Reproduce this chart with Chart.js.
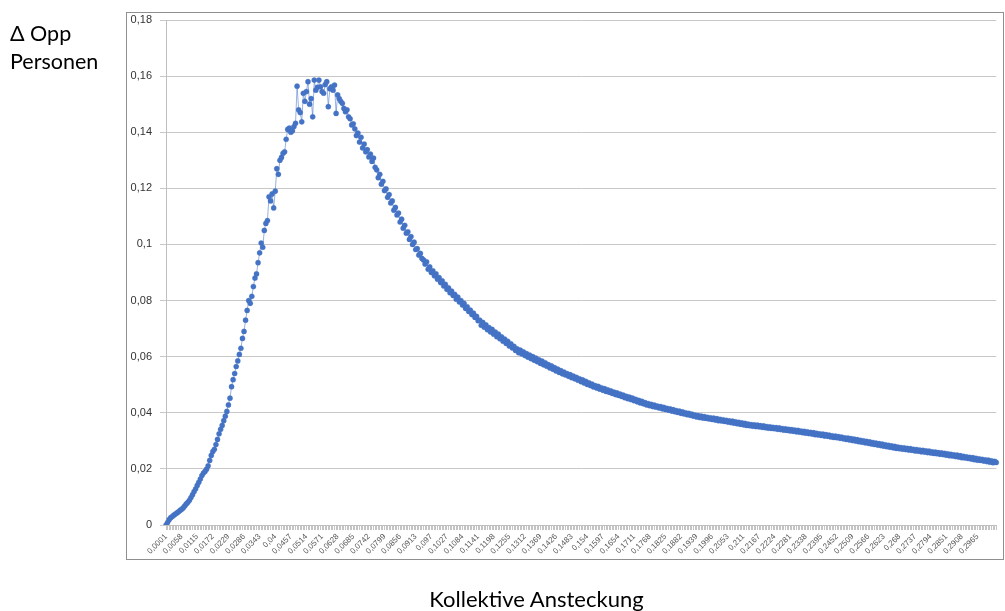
<!DOCTYPE html>
<html>
<head>
<meta charset="utf-8">
<script src="https://cdn.jsdelivr.net/npm/chart.js@4.4.1/dist/chart.umd.min.js"></script>
<style>
  html, body { margin: 0; padding: 0; background: #fff; }
  #wrap { position: relative; width: 1005px; height: 611px; overflow: hidden; }
  #frame { position: absolute; left: 126px; top: 12px; width: 878px; height: 548px; border: 1px solid #8f8f8f; box-sizing: border-box; }
  #c { position: absolute; left: 0; top: 0; }
  .ttl { position: absolute; font-family: Lato, "Liberation Sans", sans-serif; color: #000; white-space: nowrap; }
  #ytitle { left: 10px; top: 19px; line-height: 28px; font-size: 21.5px; }
  #xtitle { left: 0; width: 1005px; top: 585px; text-align: center; padding-left: 68px; box-sizing: border-box; font-size: 22px; }
</style>
</head>
<body>
<div id="wrap">
  <div id="frame"></div>
  <canvas id="c" width="1005" height="611"></canvas>
  <div class="ttl" id="ytitle">Δ Opp<br>Personen</div>
  <div class="ttl" id="xtitle">Kollektive Ansteckung</div>
</div>
<script>
// Tick labels shown on the category axis (every 10th category)
const tickLabels = ['0,0001','0,0058','0,0115','0,0172','0,0229','0,0286','0,0343','0,04','0,0457','0,0514',
  '0,0571','0,0628','0,0685','0,0742','0,0799','0,0856','0,0913','0,097','0,1027','0,1084',
  '0,1141','0,1198','0,1255','0,1312','0,1369','0,1426','0,1483','0,154','0,1597','0,1654',
  '0,1711','0,1768','0,1825','0,1882','0,1939','0,1996','0,2053','0,211','0,2167','0,2224',
  '0,2281','0,2338','0,2395','0,2452','0,2509','0,2566','0,2623','0,268','0,2737','0,2794',
  '0,2851','0,2908','0,2965'];

// Δ Opp Personen values
const deltaOpp = [
0,0.0009,0.0019,0.0026,0.0030,0.0035,0.0039,0.0043,0.0047,0.0052,
0.0056,0.0061,0.0068,0.0075,0.0081,0.0088,0.0098,0.0108,0.0119,0.0129,
0.0141,0.0152,0.0164,0.0176,0.0185,0.0191,0.0199,0.0211,0.0230,0.0248,
0.0262,0.0270,0.0287,0.0305,0.0325,0.0341,0.0355,0.0372,0.0388,0.0405,
0.0428,0.0452,0.0493,0.0518,0.0540,0.0565,0.0585,0.0608,0.0630,0.0665,
0.0690,0.0730,0.0765,0.0800,0.0790,0.0815,0.0850,0.0880,0.0895,0.0935,
0.0970,0.1005,0.0990,0.1050,0.1075,0.1085,0.1170,0.1155,0.1180,0.1130,
0.1190,0.1270,0.1250,0.1300,0.1310,0.1325,0.1330,0.1375,0.1410,0.1415,
0.1400,0.1405,0.1420,0.1432,0.1564,0.1480,0.1470,0.1437,0.1539,0.1510,
0.1545,0.1580,0.1500,0.1520,0.1455,0.1586,0.1550,0.1560,0.1586,0.1562,
0.1545,0.1539,0.1570,0.1580,0.1491,0.1555,0.1562,0.1550,0.1568,0.1467,
0.1533,0.1520,0.1510,0.1503,0.1485,0.1473,0.1480,0.1455,0.1448,0.1426,
0.1430,0.1412,0.1388,0.1397,0.1365,0.1382,0.1344,0.1358,0.1330,0.1338,
0.1312,0.1322,0.1296,0.1308,0.1275,0.1266,0.1238,0.1250,0.1215,0.1225,
0.1192,0.1198,0.1168,0.1178,0.1148,0.1155,0.1122,0.1132,0.1105,0.1112,
0.1080,0.1090,0.1058,0.1068,0.1040,0.1045,0.1018,0.1028,0.1000,0.1008,
0.0982,0.0985,0.0962,0.0968,0.0950,0.0945,0.0930,0.0938,0.0912,0.0920,
0.0900,0.0906,0.0888,0.0895,0.0876,0.0882,0.0864,0.0870,0.0852,0.0858,
0.0840,0.0845,0.0828,0.0834,0.0818,0.0822,0.0805,0.0812,0.0795,0.0800,
0.0784,0.0790,0.0772,0.0778,0.0761,0.0766,0.0750,0.0755,0.0740,0.0744,
0.0728,0.0730,0.0712,0.0722,0.0705,0.0713,0.0696,0.0704,0.0688,0.0697,
0.0680,0.0688,0.0671,0.0680,0.0664,0.0671,0.0655,0.0663,0.0647,0.0655,
0.0638,0.0646,0.0631,0.0637,0.0622,0.0628,0.0614,0.0623,0.0610,0.0617,
0.0604,0.0611,0.0598,0.0606,0.0593,0.0600,0.0587,0.0595,0.0582,0.0589,
0.0576,0.0584,0.0571,0.0578,0.0566,0.0572,0.0560,0.0567,0.0555,0.0561,
0.0549,0.0556,0.0544,0.0550,0.0539,0.0545,0.0535,0.0540,0.0530,0.0536,
0.0525,0.0531,0.0521,0.0526,0.0516,0.0521,0.0511,0.0517,0.0506,0.0512,
0.0501,0.0507,0.0497,0.0502,0.0492,0.0497,0.0488,0.0494,0.0484,0.0489,
0.0480,0.0486,0.0476,0.0482,0.0473,0.0478,0.0469,0.0474,0.0465,0.0471,
0.0462,0.0467,0.0458,0.0463,0.0454,0.0459,0.0450,0.0456,0.0447,0.0452,
0.0443,0.0448,0.0439,0.0444,0.0435,0.0441,0.0432,0.0436,0.0428,0.0433,
0.0425,0.0430,0.0422,0.0427,0.0420,0.0424,0.0417,0.0422,0.0414,0.0419,
0.0412,0.0416,0.0409,0.0414,0.0406,0.0411,0.0404,0.0408,0.0401,0.0406,
0.0398,0.0403,0.0396,0.0400,0.0393,0.0398,0.0391,0.0395,0.0388,0.0392,
0.0385,0.0390,0.0383,0.0388,0.0381,0.0386,0.0380,0.0384,0.0378,0.0382,
0.0376,0.0381,0.0374,0.0379,0.0372,0.0377,0.0371,0.0375,0.0369,0.0373,
0.0367,0.0371,0.0365,0.0370,0.0363,0.0368,0.0361,0.0366,0.0359,0.0364,
0.0357,0.0362,0.0355,0.0360,0.0354,0.0358,0.0352,0.0357,0.0351,0.0356,
0.0350,0.0354,0.0348,0.0353,0.0347,0.0351,0.0345,0.0350,0.0344,0.0348,
0.0343,0.0347,0.0341,0.0346,0.0340,0.0344,0.0338,0.0343,0.0337,0.0341,
0.0335,0.0340,0.0334,0.0338,0.0332,0.0337,0.0331,0.0335,0.0329,0.0334,
0.0327,0.0332,0.0326,0.0330,0.0324,0.0329,0.0322,0.0327,0.0321,0.0325,
0.0319,0.0324,0.0317,0.0322,0.0316,0.0320,0.0314,0.0318,0.0312,0.0317,
0.0311,0.0315,0.0309,0.0313,0.0307,0.0311,0.0305,0.0310,0.0303,0.0308,
0.0301,0.0306,0.0299,0.0304,0.0297,0.0302,0.0295,0.0300,0.0293,0.0298,
0.0291,0.0296,0.0289,0.0294,0.0287,0.0292,0.0285,0.0290,0.0283,0.0288,
0.0281,0.0286,0.0279,0.0284,0.0277,0.0282,0.0275,0.0280,0.0273,0.0278,
0.0272,0.0276,0.0270,0.0275,0.0269,0.0273,0.0267,0.0272,0.0266,0.0270,
0.0264,0.0269,0.0263,0.0267,0.0261,0.0266,0.0260,0.0264,0.0258,0.0263,
0.0257,0.0261,0.0255,0.0260,0.0254,0.0258,0.0252,0.0257,0.0251,0.0255,
0.0249,0.0254,0.0247,0.0252,0.0246,0.0250,0.0244,0.0249,0.0242,0.0247,
0.0240,0.0245,0.0239,0.0243,0.0237,0.0241,0.0235,0.0240,0.0233,0.0238,
0.0231,0.0236,0.0230,0.0234,0.0228,0.0232,0.0226,0.0231,0.0224,0.0229,
0.0222,0.0227,0.0223
];

// x categories: Kollektive Ansteckung, sampled every 0.00057 from 0.0001
const xStart = 0.0001, xStep = 0.00057, labelEvery = 10;
const categories = deltaOpp.map((_, i) => +(xStart + xStep * i).toFixed(5));

// y axis ticks
const yMin = 0, yMax = 0.18, yStep = 0.02;

const fmt = v => (+v.toFixed(4)).toString().replace('.', ',');

new Chart(document.getElementById('c'), {
  type: 'line',
  data: {
    labels: categories,
    datasets: [{
      data: deltaOpp,
      borderColor: 'rgba(68,114,196,0.55)',
      borderWidth: 1,
      pointRadius: 2.6,
      pointBackgroundColor: '#4472C4',
      pointBorderColor: '#4472C4',
      pointBorderWidth: 0.3,
      tension: 0
    }]
  },
  options: {
    responsive: false,
    animation: false,
    events: [],
    layout: { padding: { left: 126, right: 2, top: 20, bottom: 50 } },
    plugins: { legend: { display: false }, tooltip: { enabled: false } },
    scales: {
      x: {
        type: 'category',
        offset: false,
        afterFit: s => { s.height = 36; },
        grid: { drawOnChartArea: false, drawTicks: true, tickLength: 5, color: '#c4c4c4', lineWidth: 1 },
        border: { display: true, color: '#bfbfbf' },
        ticks: {
          autoSkip: false,
          maxRotation: 45, minRotation: 45,
          padding: 2,
          font: { family: 'Liberation Sans', size: 8 },
          color: '#595959',
          callback: (v, i) => (i % labelEvery === 0 && tickLabels[i / labelEvery] !== undefined) ? tickLabels[i / labelEvery] : ''
        }
      },
      y: {
        min: yMin, max: yMax,
        afterFit: s => { s.width = 40; },
        grid: { color: '#c8c8c8', lineWidth: 1, tickLength: 6 },
        border: { display: true, color: '#bfbfbf' },
        ticks: {
          stepSize: yStep,
          padding: 8,
          font: { family: 'Liberation Sans', size: 11 },
          color: '#333333',
          callback: v => fmt(v)
        }
      }
    }
  }
});
</script>
</body>
</html>
